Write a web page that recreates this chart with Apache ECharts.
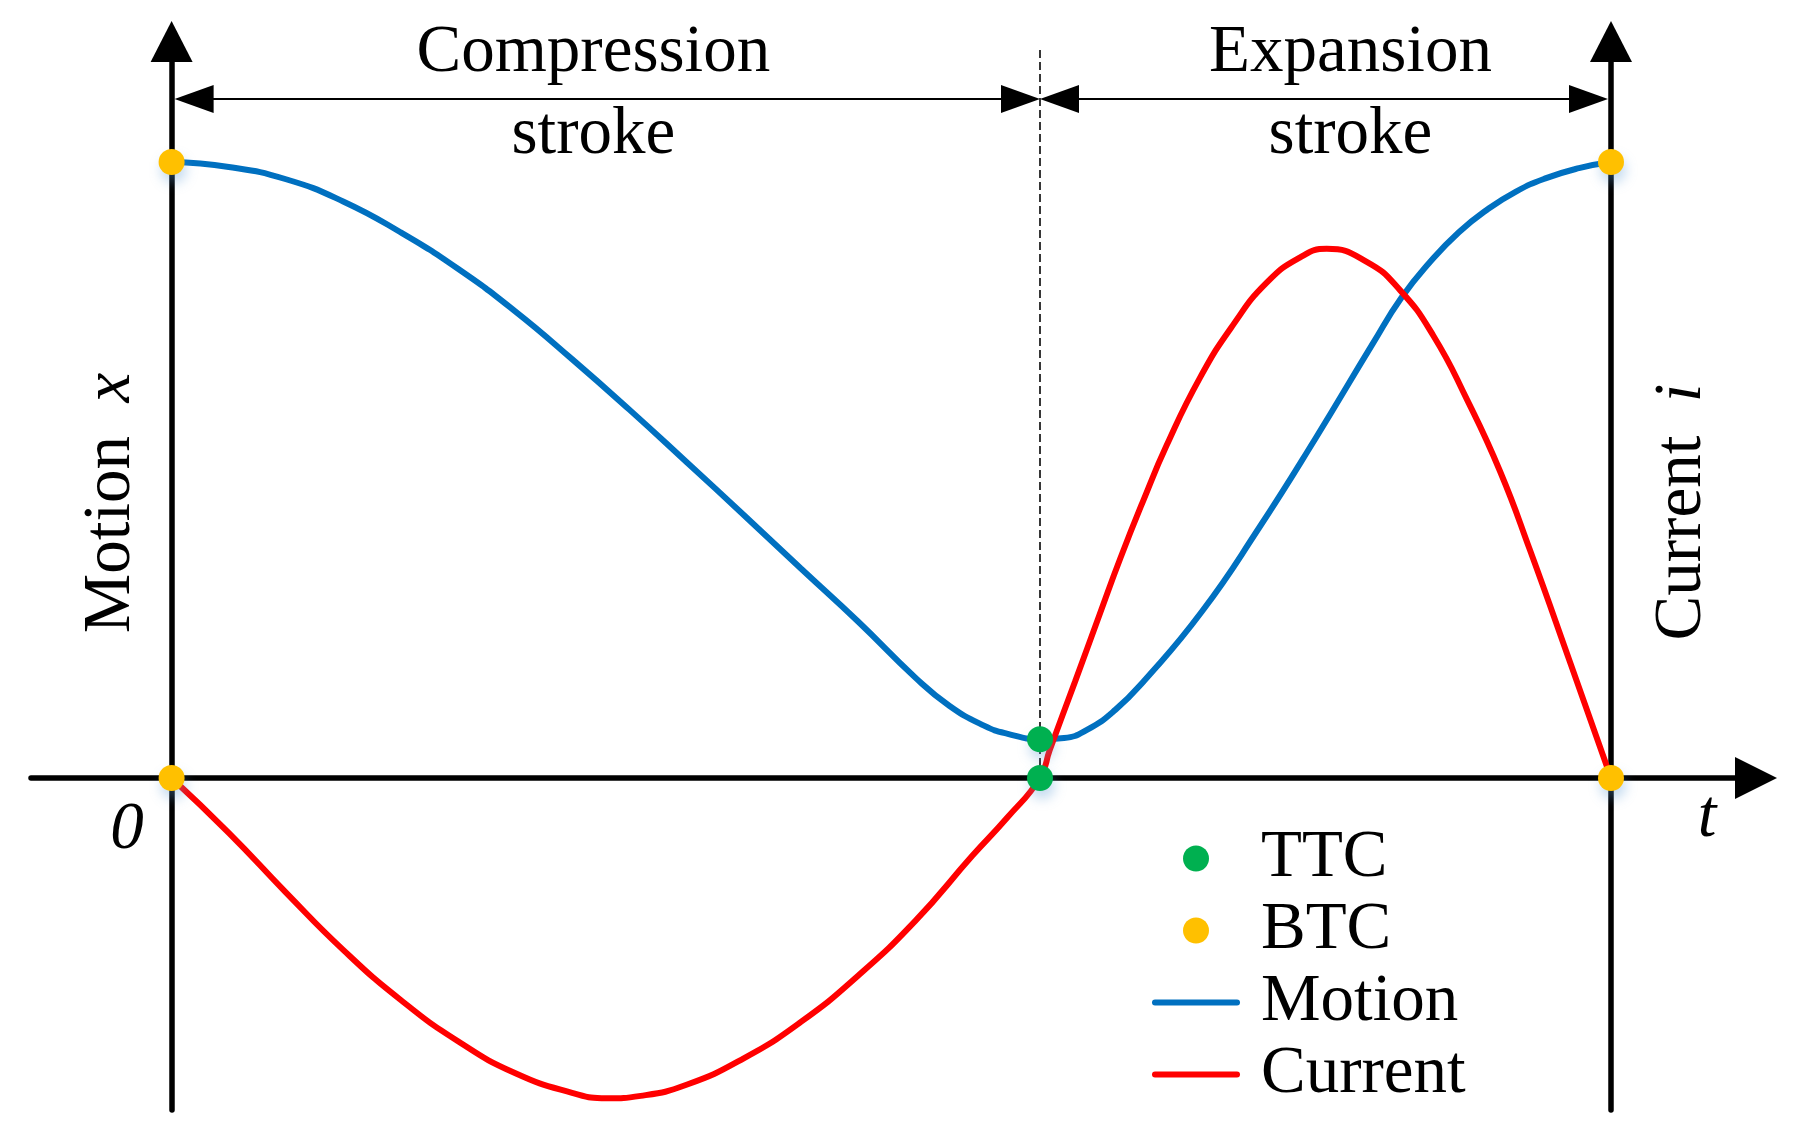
<!DOCTYPE html>
<html><head><meta charset="utf-8">
<script src="https://cdn.jsdelivr.net/npm/echarts@6/dist/echarts.min.js"></script>
<style>html,body{margin:0;padding:0;background:#fff}#c{width:1794px;height:1136px}</style>
</head><body><div id="c"></div>
<script>
// ---------------- data ----------------
const motionT = [0, 3.97, 7.95, 11.92, 15.9, 19.87, 23.85, 27.82, 31.8, 35.77, 39.75, 43.72, 47.69, 51.67, 54.05, 56.44, 58.03, 60.33, 62.0, 63.59, 65.58, 67.57, 71.54, 75.52, 79.49, 83.47, 85.45, 87.44, 89.43, 91.41, 93.4, 95.39, 97.77, 100];
const motionX = [100, 99.2, 97.2, 93.6, 88.6, 82.7, 75.8, 68.0, 59.8, 51.3, 42.7, 34.0, 25.4, 16.3, 11.7, 8.5, 7.2, 6.3, 6.5, 7.8, 11.1, 15.8, 26.9, 40.5, 55.2, 70.6, 78.0, 83.8, 88.6, 92.3, 95.2, 97.3, 99.0, 100];
const currentT = [0, 3.97, 7.95, 11.92, 15.9, 19.87, 23.85, 27.82, 30.21, 32.59, 35.77, 39.75, 43.72, 47.69, 51.67, 55.64, 58.03, 60.33, 61.0, 62.76, 64.51, 65.9, 67.5, 69.13, 71.45, 73.76, 76.08, 78.4, 80.25, 83.03, 85.34, 87.66, 89.98, 92.29, 94.37, 97.2, 100];
const currentI = [0, -8.9, -18.6, -27.9, -36.0, -42.7, -47.9, -51.1, -52.0, -51.6, -49.8, -45.5, -39.6, -32.1, -23.2, -12.6, -6.5, 0, 4.5, 15.6, 26.8, 35.6, 45.0, 54.0, 65.0, 73.6, 80.4, 84.5, 85.9, 83.8, 79.2, 71.8, 61.5, 49.8, 37.0, 18.5, 0];
const ttcT = [60.33, 60.33];
const ttcV = [6.3, 0];
const btcT = [0, 100, 0, 100];
const btcV = [100, 100, 0, 0];
const strokeNames = ['Compression', 'Expansion'];
const strokeSecond = ['stroke', 'stroke'];
const strokeFrom = [0, 60.33];
const strokeTo = [60.33, 100];
const strokeLabelT = [29.3, 81.9];
const legendNames = ['TTC', 'BTC', 'Motion', 'Current'];
const leftAxisName = ['Motion', 'x'];
const rightAxisName = ['Current', 'i'];
const originLabel = '0';
const timeLabel = 't';

// ---------------- layout (pixels) ----------------
const P = { x0: 171.6, x100: 1611, y0: 778, y100: 162, gL: 31, gR: 1756, gT: 41.5, gB: 1110 };
const tpp = 100 / (P.x100 - P.x0);
const vpp = 100 / (P.y0 - P.y100);
const xMin = -(P.x0 - P.gL) * tpp, xMax = 100 + (P.gR - P.x100) * tpp;
const yMin = -(P.gB - P.y0) * vpp, yMax = (P.y0 - P.gT) * vpp;
const arrowLevel = (P.y0 - 99) * vpp;
const dashTop = (P.y0 - 46) * vpp;

const FONT = 'Liberation Serif';
const FS = 67;
const zip = (a, b) => a.map((v, i) => [v, b[i]]);
const dotShadow = { shadowBlur: 12, shadowColor: 'rgba(91,155,213,0.35)', shadowOffsetX: 2, shadowOffsetY: 8 };
const lineIcon = 'path://M3,0 L85,0 A3,3 0 0 1 85,6 L3,6 A3,3 0 0 1 3,0 Z';

const axisLineStyle = { color: '#000', width: 5.5, cap: 'round' };

const chart = echarts.init(document.getElementById('c'), null, { renderer: 'canvas' });
chart.setOption({
  animation: false,
  backgroundColor: '#fff',
  grid: { left: P.gL, right: 1794 - P.gR, top: P.gT, bottom: 1136 - P.gB, containLabel: false, outerBoundsMode: 'none' },
  xAxis: {
    type: 'value', min: xMin, max: xMax,
    axisLine: { onZero: true, symbol: ['none', 'triangle'], symbolSize: [42, 42], lineStyle: axisLineStyle },
    axisTick: { show: false }, axisLabel: { show: false }, splitLine: { show: false }
  },
  yAxis: [{
    type: 'value', min: yMin, max: yMax,
    axisLine: { show: true, onZero: true, symbol: ['none', 'triangle'], symbolSize: [42, 41], lineStyle: axisLineStyle },
    axisTick: { show: false }, axisLabel: { show: false }, splitLine: { show: false }
  }, {
    type: 'value', min: yMin, max: yMax, position: 'right', offset: -(P.gR - P.x100),
    axisLine: { show: true, onZero: false, symbol: ['none', 'triangle'], symbolSize: [42, 41], lineStyle: axisLineStyle },
    axisTick: { show: false }, axisLabel: { show: false }, splitLine: { show: false }
  }],
  legend: {
    orient: 'vertical', left: 1152, top: 825, padding: 0, height: 400,
    itemWidth: 88, itemHeight: 26, itemGap: 5, selectedMode: false,
    textStyle: { fontFamily: FONT, fontSize: FS, color: '#000', padding: [0, 0, 0, 16] },
    data: [
      { name: legendNames[0], icon: 'circle' },
      { name: legendNames[1], icon: 'circle' },
      { name: legendNames[2], icon: lineIcon },
      { name: legendNames[3], icon: lineIcon }
    ]
  },
  graphic: [
    { type: 'text', x: 111, y: 503, rotation: Math.PI / 2,
      style: { text: '{n|' + leftAxisName[0] + '}  {v|' + leftAxisName[1] + '}', fontFamily: FONT, fontSize: FS, fill: '#000',
        align: 'center', verticalAlign: 'middle', textAlign: 'center', textVerticalAlign: 'middle',
        rich: { n: { fontFamily: FONT, fontSize: FS, fill: '#000' }, v: { fontFamily: FONT, fontSize: FS, fontStyle: 'italic', fill: '#000' } } } },
    { type: 'text', x: 1682, y: 512, rotation: Math.PI / 2,
      style: { text: '{n|' + rightAxisName[0] + '}  {v|' + rightAxisName[1] + '}', fontFamily: FONT, fontSize: FS, fill: '#000',
        align: 'center', verticalAlign: 'middle', textAlign: 'center', textVerticalAlign: 'middle',
        rich: { n: { fontFamily: FONT, fontSize: FS, fill: '#000' }, v: { fontFamily: FONT, fontSize: FS, fontStyle: 'italic', fill: '#000' } } } },
    { type: 'text', x: 127, y: 830.5,
      style: { text: originLabel, fontFamily: FONT, fontSize: FS, fontStyle: 'italic', fill: '#000', align: 'center', verticalAlign: 'middle', textAlign: 'center', textVerticalAlign: 'middle' } },
    { type: 'text', x: 1707, y: 818.5,
      style: { text: timeLabel, fontFamily: FONT, fontSize: FS, fontStyle: 'italic', fill: '#000', align: 'center', verticalAlign: 'middle', textAlign: 'center', textVerticalAlign: 'middle' } }
  ],
  series: [
    {
      type: 'custom', name: 'strokes', silent: true, z: 1,
      data: strokeFrom.map((f, i) => [f, strokeTo[i], strokeLabelT[i]]),
      encode: { x: [0, 1, 2] },
      renderItem: function (params, api) {
        const i = params.dataIndex;
        const from = api.value(0), to = api.value(1), lab = api.value(2);
        const a = api.coord([from, arrowLevel]);
        const b = api.coord([to, arrowLevel]);
        const c = api.coord([lab, arrowLevel]);
        const gapA = (from === 0) ? 3 : 0;
        const gapB = (to === 100) ? 3 : 0;
        const y = a[1], x1 = a[0] + gapA, x2 = b[0] - gapB;
        const HL = 39, HW = 14;
        const txt = (s, yy) => ({ type: 'text', x: c[0], y: yy,
          style: { text: s, fontFamily: FONT, fontSize: FS, fill: '#000', align: 'center', verticalAlign: 'middle', textAlign: 'center', textVerticalAlign: 'middle' } });
        return { type: 'group', children: [
          { type: 'line', shape: { x1: x1 + HL / 2, y1: y, x2: x2 - HL / 2, y2: y }, style: { stroke: '#000', lineWidth: 2 } },
          { type: 'polygon', shape: { points: [[x1, y], [x1 + HL, y - HW], [x1 + HL, y + HW]] }, style: { fill: '#000' } },
          { type: 'polygon', shape: { points: [[x2, y], [x2 - HL, y - HW], [x2 - HL, y + HW]] }, style: { fill: '#000' } },
          txt(strokeNames[i], y - 46),
          txt(strokeSecond[i], y + 36)
        ] };
      },
      markLine: {
        silent: true, symbol: ['none', 'none'], label: { show: false },
        lineStyle: { color: '#222', width: 1.8, type: [8, 4] },
        data: [[{ coord: [ttcT[0], 0] }, { coord: [ttcT[0], dashTop] }]]
      }
    },
    {
      type: 'line', name: legendNames[2], z: 3, symbol: 'none', showSymbol: false, smooth: 0.5,
      data: zip(motionT, motionX),
      itemStyle: { color: '#0070C0' },
      lineStyle: { color: '#0070C0', width: 6 }
    },
    {
      type: 'line', name: legendNames[3], yAxisIndex: 1, z: 4, symbol: 'none', showSymbol: false, smooth: 0.5,
      data: zip(currentT, currentI),
      itemStyle: { color: '#FF0000' },
      lineStyle: { color: '#FF0000', width: 6 }
    },
    {
      type: 'scatter', name: legendNames[0], z: 6, symbol: 'circle', symbolSize: 26,
      data: zip(ttcT, ttcV),
      itemStyle: Object.assign({ color: '#00B050', opacity: 1 }, dotShadow)
    },
    {
      type: 'scatter', name: legendNames[1], z: 6, symbol: 'circle', symbolSize: 26,
      data: zip(btcT, btcV),
      itemStyle: Object.assign({ color: '#FFC000', opacity: 1 }, dotShadow)
    }
  ]
});
</script>
</body></html>
